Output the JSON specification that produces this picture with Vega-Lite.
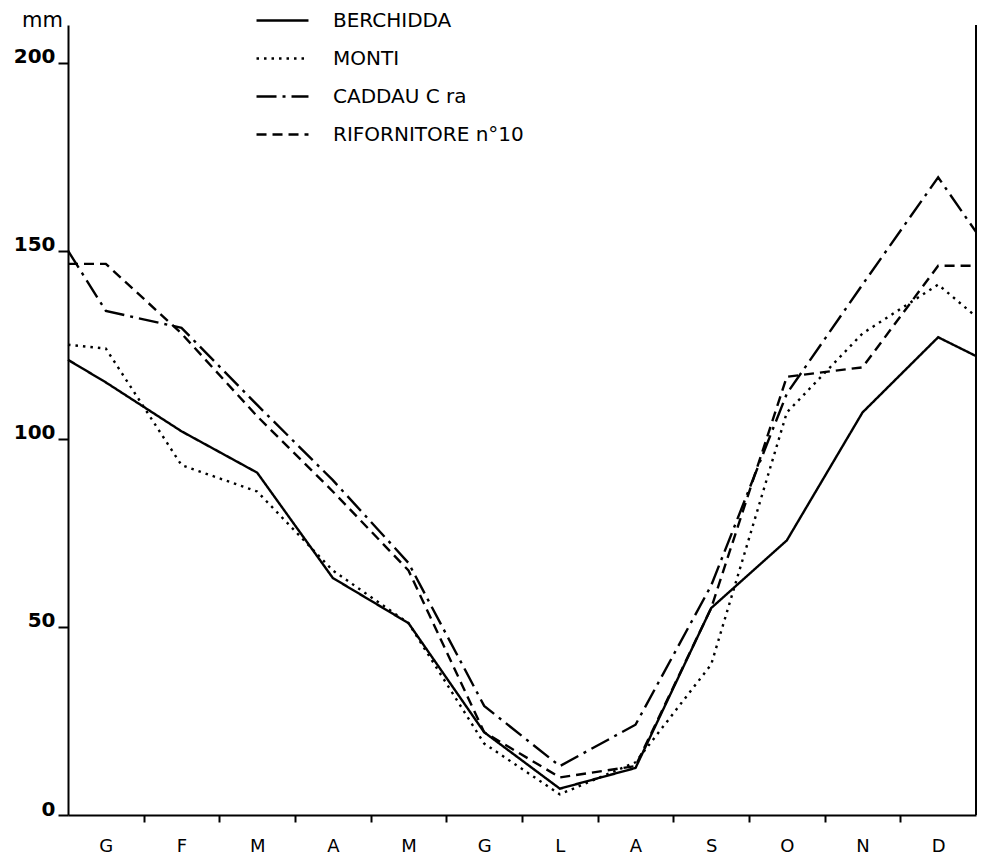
{
  "$schema": "https://vega.github.io/schema/vega-lite/v6.json",
  "width": 908,
  "height": 790,
  "autosize": {"type": "none"},
  "padding": {"left": 68, "top": 25, "right": 6, "bottom": 46},
  "background": "white",
  "config": {"view": {"stroke": null}, "font": "DejaVu Sans"},
  "data": {"values": [
    {"station": "BERCHIDDA", "m": 0.5, "v": 121},
    {"station": "BERCHIDDA", "m": 1, "v": 115},
    {"station": "BERCHIDDA", "m": 2, "v": 102},
    {"station": "BERCHIDDA", "m": 3, "v": 91},
    {"station": "BERCHIDDA", "m": 4, "v": 63},
    {"station": "BERCHIDDA", "m": 5, "v": 51},
    {"station": "BERCHIDDA", "m": 6, "v": 22},
    {"station": "BERCHIDDA", "m": 7, "v": 7},
    {"station": "BERCHIDDA", "m": 8, "v": 12.5},
    {"station": "BERCHIDDA", "m": 9, "v": 55},
    {"station": "BERCHIDDA", "m": 10, "v": 73},
    {"station": "BERCHIDDA", "m": 11, "v": 107},
    {"station": "BERCHIDDA", "m": 12, "v": 127},
    {"station": "BERCHIDDA", "m": 12.5, "v": 122},
    {"station": "MONTI", "m": 0.5, "v": 125},
    {"station": "MONTI", "m": 1, "v": 124},
    {"station": "MONTI", "m": 2, "v": 93},
    {"station": "MONTI", "m": 3, "v": 86},
    {"station": "MONTI", "m": 4, "v": 65},
    {"station": "MONTI", "m": 5, "v": 51},
    {"station": "MONTI", "m": 6, "v": 19},
    {"station": "MONTI", "m": 7, "v": 5.5},
    {"station": "MONTI", "m": 8, "v": 14},
    {"station": "MONTI", "m": 9, "v": 40},
    {"station": "MONTI", "m": 10, "v": 107},
    {"station": "MONTI", "m": 11, "v": 128},
    {"station": "MONTI", "m": 12, "v": 141},
    {"station": "MONTI", "m": 12.5, "v": 132.5},
    {"station": "CADDAU  C ra", "m": 0.5, "v": 150},
    {"station": "CADDAU  C ra", "m": 1, "v": 134},
    {"station": "CADDAU  C ra", "m": 2, "v": 129.5},
    {"station": "CADDAU  C ra", "m": 3, "v": 109},
    {"station": "CADDAU  C ra", "m": 4, "v": 89},
    {"station": "CADDAU  C ra", "m": 5, "v": 67},
    {"station": "CADDAU  C ra", "m": 6, "v": 29},
    {"station": "CADDAU  C ra", "m": 7, "v": 13},
    {"station": "CADDAU  C ra", "m": 8, "v": 24},
    {"station": "CADDAU  C ra", "m": 9, "v": 61},
    {"station": "CADDAU  C ra", "m": 10, "v": 112},
    {"station": "CADDAU  C ra", "m": 11, "v": 141},
    {"station": "CADDAU  C ra", "m": 12, "v": 169.5},
    {"station": "CADDAU  C ra", "m": 12.5, "v": 155},
    {"station": "RIFORNITORE n°10", "m": 0.5, "v": 146.5},
    {"station": "RIFORNITORE n°10", "m": 1, "v": 146.5},
    {"station": "RIFORNITORE n°10", "m": 2, "v": 128},
    {"station": "RIFORNITORE n°10", "m": 3, "v": 106},
    {"station": "RIFORNITORE n°10", "m": 4, "v": 86},
    {"station": "RIFORNITORE n°10", "m": 5, "v": 65},
    {"station": "RIFORNITORE n°10", "m": 6, "v": 22},
    {"station": "RIFORNITORE n°10", "m": 7, "v": 10},
    {"station": "RIFORNITORE n°10", "m": 8, "v": 13},
    {"station": "RIFORNITORE n°10", "m": 9, "v": 55},
    {"station": "RIFORNITORE n°10", "m": 10, "v": 116.5},
    {"station": "RIFORNITORE n°10", "m": 11, "v": 119},
    {"station": "RIFORNITORE n°10", "m": 12, "v": 146},
    {"station": "RIFORNITORE n°10", "m": 12.5, "v": 146}
  ]},
  "layer": [
    {
      "mark": {"type": "line", "color": "black", "strokeWidth": 2.4},
      "encoding": {
        "x": {
          "field": "m", "type": "quantitative",
          "scale": {"domain": [0.5, 12.5], "nice": false, "zero": false},
          "axis": {
            "title": null, "grid": false,
            "values": [1, 1.5, 2, 2.5, 3, 3.5, 4, 4.5, 5, 5.5, 6, 6.5, 7, 7.5, 8, 8.5, 9, 9.5, 10, 10.5, 11, 11.5, 12],
            "labelExpr": "datum.value % 1 == 0 ? ['G','F','M','A','M','G','L','A','S','O','N','D'][datum.value - 1] : ''",
            "tickOpacity": {"condition": {"test": "datum.value % 1 == 0", "value": 0}, "value": 1},
            "tickSize": 7, "tickWidth": 2, "tickColor": "black",
            "domainColor": "black", "domainWidth": 2,
            "labelFontSize": 18, "labelColor": "black", "labelPadding": 15,
            "labelOverlap": false, "labelFlush": false
          }
        },
        "y": {
          "field": "v", "type": "quantitative",
          "scale": {"domain": [0, 210], "nice": false},
          "axis": {
            "title": "mm", "titleAngle": 0, "titleX": -26, "titleY": -5,
            "titleAlign": "center", "titleBaseline": "middle",
            "titleFontSize": 21, "titleFontWeight": "normal", "titleColor": "black",
            "grid": false, "values": [0, 50, 100, 150, 200],
            "tickSize": 10, "tickWidth": 2, "tickColor": "black",
            "domainColor": "black", "domainWidth": 2,
            "labelFontSize": 20, "labelFontWeight": "bold", "labelColor": "black",
            "labelBaseline": "alphabetic", "labelPadding": 3
          }
        },
        "strokeDash": {
          "field": "station", "type": "nominal",
          "scale": {
            "domain": ["BERCHIDDA", "MONTI", "CADDAU  C ra", "RIFORNITORE n°10"],
            "range": [[1, 0], [2.5, 5], [20, 6, 3, 6], [10, 6]]
          },
          "legend": {
            "title": null, "orient": "none", "legendX": 187, "legendY": -32,
            "symbolType": "stroke", "symbolSize": 2700, "symbolStrokeWidth": 2.4,
            "symbolStrokeColor": "black", "labelFontSize": 20, "labelColor": "black",
            "labelOffset": 23, "rowPadding": -16, "padding": 0, "labelLimit": 400
          }
        }
      }
    },
    {
      "data": {"values": [{}]},
      "mark": {"type": "rule", "color": "black", "strokeWidth": 2},
      "encoding": {
        "x": {"datum": 12.5},
        "y": {"datum": 0},
        "y2": {"datum": 210}
      }
    }
  ]
}
